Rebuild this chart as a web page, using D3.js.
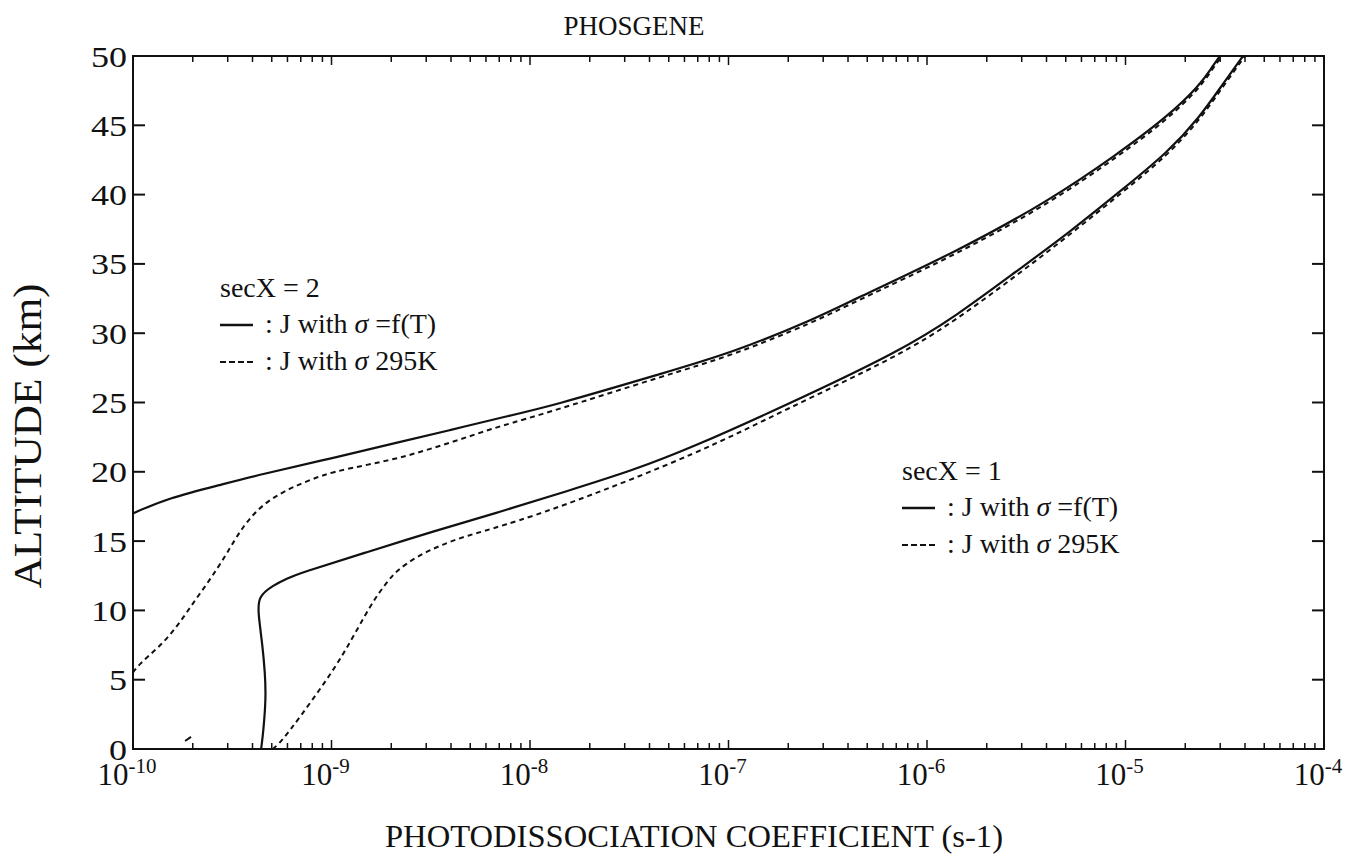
<!DOCTYPE html>
<html>
<head>
<meta charset="utf-8">
<script src="https://cdn.jsdelivr.net/npm/d3@7/dist/d3.min.js"></script>
<style>
  html, body { margin: 0; padding: 0; background: #fff; }
  svg text { font-family: "Liberation Serif", "DejaVu Serif", serif; fill: #111; }
</style>
</head>
<body>
<svg id="chart" width="1356" height="862"></svg>
<script>
// ---- data ----
const yTicks = [0, 5, 10, 15, 20, 25, 30, 35, 40, 45, 50];
const xDecades = [-10, -9, -8, -7, -6, -5, -4];

// secX = 2, sigma = f(T)  (solid)
const sec2SolidAlt = [17.0, 18.1, 19.05, 19.8, 21.0, 22.15, 23.0, 23.9, 24.7, 27.2, 28.6, 31.1, 32.3, 35.9, 39.6, 42.9, 45.6, 47.9, 49.2, 50];
const sec2SolidJ   = [1.00e-10, 1.50e-10, 2.74e-10, 4.37e-10, 1.02e-9, 2.21e-9, 3.95e-9, 7.06e-9, 1.26e-8, 4.90e-8, 1.05e-7, 2.79e-7, 4.09e-7, 1.42e-6, 4.17e-6, 9.06e-6, 1.62e-5, 2.37e-5, 2.73e-5, 2.99e-5];

// secX = 2, sigma 295K  (dashed)
const sec2DashAlt = [5.0, 6.2, 7.27, 8.83, 10.5, 12.2, 13.9, 15.1, 16.0, 16.9, 17.6, 18.3, 18.9, 19.5, 20.0, 20.5, 21.0, 21.7, 22.5, 23.3, 24.3, 27.0, 28.4, 30.9, 32.1, 35.7, 39.4, 42.7, 45.4, 47.7, 49.1, 50];
const sec2DashJ   = [0.94e-10, 1.08e-10, 1.34e-10, 1.67e-10, 2.00e-10, 2.44e-10, 2.91e-10, 3.26e-10, 3.58e-10, 4.02e-10, 4.52e-10, 5.31e-10, 6.40e-10, 8.07e-10, 1.02e-9, 1.51e-9, 2.21e-9, 3.24e-9, 4.82e-9, 7.06e-9, 1.26e-8, 4.90e-8, 1.05e-7, 2.79e-7, 4.09e-7, 1.42e-6, 4.17e-6, 9.06e-6, 1.62e-5, 2.37e-5, 2.75e-5, 3.06e-5];
// short fragment near the ground
const sec2DashLowAlt = [0.58, 0.87];
const sec2DashLowJ   = [1.83e-10, 1.96e-10];

// secX = 1, sigma = f(T)  (solid)
const sec1SolidAlt = [0, 1.15, 3.75, 5.5, 7.4, 9.8, 11.0, 11.8, 12.3, 12.7, 14.2, 15.7, 17.1, 18.6, 20.1, 21.75, 24.7, 28.7, 31.3, 34.5, 37.3, 40.4, 43.0, 45.6, 48.0, 50];
const sec1SolidJ   = [4.42e-10, 4.53e-10, 4.68e-10, 4.62e-10, 4.50e-10, 4.27e-10, 4.27e-10, 5.07e-10, 5.97e-10, 6.93e-10, 1.51e-9, 3.24e-9, 7.06e-9, 1.53e-8, 3.30e-8, 6.54e-8, 1.88e-7, 7.31e-7, 1.42e-6, 2.84e-6, 5.25e-6, 9.70e-6, 1.62e-5, 2.37e-5, 3.10e-5, 3.91e-5];

// secX = 1, sigma 295K  (dashed)
const sec1DashAlt = [0, 0.6, 2.3, 4.7, 7.0, 10.6, 12.07, 12.9, 13.9, 14.7, 15.4, 16.04, 17.6, 21.4, 24.4, 28.4, 31.0, 34.2, 37.1, 40.2, 42.8, 45.4, 47.8, 50];
const sec1DashJ   = [5.07e-10, 5.64e-10, 6.93e-10, 9.16e-10, 1.17e-9, 1.60e-9, 1.91e-9, 2.14e-9, 2.70e-9, 3.53e-9, 4.82e-9, 7.06e-9, 1.53e-8, 7.18e-8, 1.88e-7, 7.31e-7, 1.42e-6, 2.84e-6, 5.25e-6, 9.70e-6, 1.62e-5, 2.37e-5, 3.10e-5, 4.00e-5];

// ---- layout ----
const L = 133, R = 1324, T = 56, B = 749;
const svg = d3.select("#chart");
const x = d3.scaleLog().domain([1e-10, 1e-4]).range([L, R]);
const y = d3.scaleLinear().domain([0, 50]).range([B, T]);

svg.append("defs").append("clipPath").attr("id", "plotclip")
  .append("rect").attr("x", L).attr("y", T).attr("width", R - L).attr("height", B - T);

// frame
svg.append("rect").attr("x", L).attr("y", T).attr("width", R - L).attr("height", B - T)
  .attr("fill", "none").attr("stroke", "#111").attr("stroke-width", 2);

// y ticks (left & right, inward)
const yt = svg.append("g");
yTicks.forEach(v => {
  yt.append("line").attr("x1", L).attr("x2", L + 12).attr("y1", y(v)).attr("y2", y(v))
    .attr("stroke", "#111").attr("stroke-width", 2);
  yt.append("line").attr("x1", R - 12).attr("x2", R).attr("y1", y(v)).attr("y2", y(v))
    .attr("stroke", "#111").attr("stroke-width", 2);
  yt.append("text")
    .attr("transform", `translate(${L - 6},${y(v)}) scale(1.2,1)`)
    .attr("dy", "0.35em")
    .attr("text-anchor", "end").attr("font-size", 30).text(v);
});

// x ticks (bottom & top, inward), minor ticks
const xt = svg.append("g");
xDecades.forEach(d => {
  if (d < -4) {
    for (let m = 2; m <= 9; m++) {
      const xv = x(m * Math.pow(10, d));
      xt.append("line").attr("x1", xv).attr("x2", xv).attr("y1", B).attr("y2", B - 6)
        .attr("stroke", "#111").attr("stroke-width", 1.5);
      xt.append("line").attr("x1", xv).attr("x2", xv).attr("y1", T).attr("y2", T + 6)
        .attr("stroke", "#111").attr("stroke-width", 1.5);
    }
  }
  const xv = x(Math.pow(10, d));
  xt.append("line").attr("x1", xv).attr("x2", xv).attr("y1", B).attr("y2", B - 9)
    .attr("stroke", "#111").attr("stroke-width", 1.5);
  xt.append("line").attr("x1", xv).attr("x2", xv).attr("y1", T).attr("y2", T + 9)
    .attr("stroke", "#111").attr("stroke-width", 1.5);
  const t = xt.append("text").attr("x", xv - 6).attr("y", 785)
    .attr("text-anchor", "middle").attr("font-size", 31);
  t.append("tspan").text("10");
  t.append("tspan").attr("dy", -12).attr("font-size", 21).text(String(d));
});

// curves
const plot = svg.append("g").attr("clip-path", "url(#plotclip)");
const line = d3.line().x(d => x(d[0])).y(d => y(d[1])).curve(d3.curveBasis);
function series(J, A) { return J.map((j, i) => [j, A[i]]); }

plot.append("path").datum(series(sec2SolidJ, sec2SolidAlt)).attr("d", line)
  .attr("fill", "none").attr("stroke", "#111").attr("stroke-width", 2.2);
plot.append("path").datum(series(sec2DashJ, sec2DashAlt)).attr("d", line)
  .attr("fill", "none").attr("stroke", "#111").attr("stroke-width", 2).attr("stroke-dasharray", "5,4");
plot.append("path").datum(series(sec2DashLowJ, sec2DashLowAlt)).attr("d", line)
  .attr("fill", "none").attr("stroke", "#111").attr("stroke-width", 2);
plot.append("path").datum(series(sec1SolidJ, sec1SolidAlt)).attr("d", line)
  .attr("fill", "none").attr("stroke", "#111").attr("stroke-width", 2.2);
plot.append("path").datum(series(sec1DashJ, sec1DashAlt)).attr("d", line)
  .attr("fill", "none").attr("stroke", "#111").attr("stroke-width", 2).attr("stroke-dasharray", "5,4");

// legends
function legend(x0, yTitle, num) {
  const g = svg.append("g");
  g.append("text").attr("x", x0).attr("y", yTitle).attr("font-size", 28).text("secX = " + num);
  const y1 = yTitle + 36, y2 = yTitle + 73;
  g.append("line").attr("x1", x0).attr("x2", x0 + 33).attr("y1", y1 - 8).attr("y2", y1 - 8)
    .attr("stroke", "#111").attr("stroke-width", 2.4);
  const t1 = g.append("text").attr("x", x0 + 45).attr("y", y1).attr("font-size", 28);
  t1.append("tspan").text(": J with ");
  t1.append("tspan").attr("font-style", "italic").text("\u03C3");
  t1.append("tspan").text(" =f(T)");
  g.append("line").attr("x1", x0).attr("x2", x0 + 35).attr("y1", y2 - 8).attr("y2", y2 - 8)
    .attr("stroke", "#111").attr("stroke-width", 2).attr("stroke-dasharray", "6,3");
  const t2 = g.append("text").attr("x", x0 + 45).attr("y", y2).attr("font-size", 28);
  t2.append("tspan").text(": J with ");
  t2.append("tspan").attr("font-style", "italic").text("\u03C3");
  t2.append("tspan").text(" 295K");
}
legend(220, 297, 2);
legend(902, 480, 1);

// titles
svg.append("text").attr("x", 634).attr("y", 35).attr("text-anchor", "middle")
  .attr("font-size", 27).text("PHOSGENE");
svg.append("text").attr("x", 694).attr("y", 847).attr("text-anchor", "middle")
  .attr("font-size", 31).attr("textLength", 618).attr("lengthAdjust", "spacingAndGlyphs")
  .text("PHOTODISSOCIATION COEFFICIENT (s-1)");
svg.append("text").attr("transform", "translate(41,436) rotate(-90)").attr("text-anchor", "middle")
  .attr("font-size", 39).attr("textLength", 305).attr("lengthAdjust", "spacingAndGlyphs")
  .text("ALTITUDE (km)");
</script>
</body>
</html>
